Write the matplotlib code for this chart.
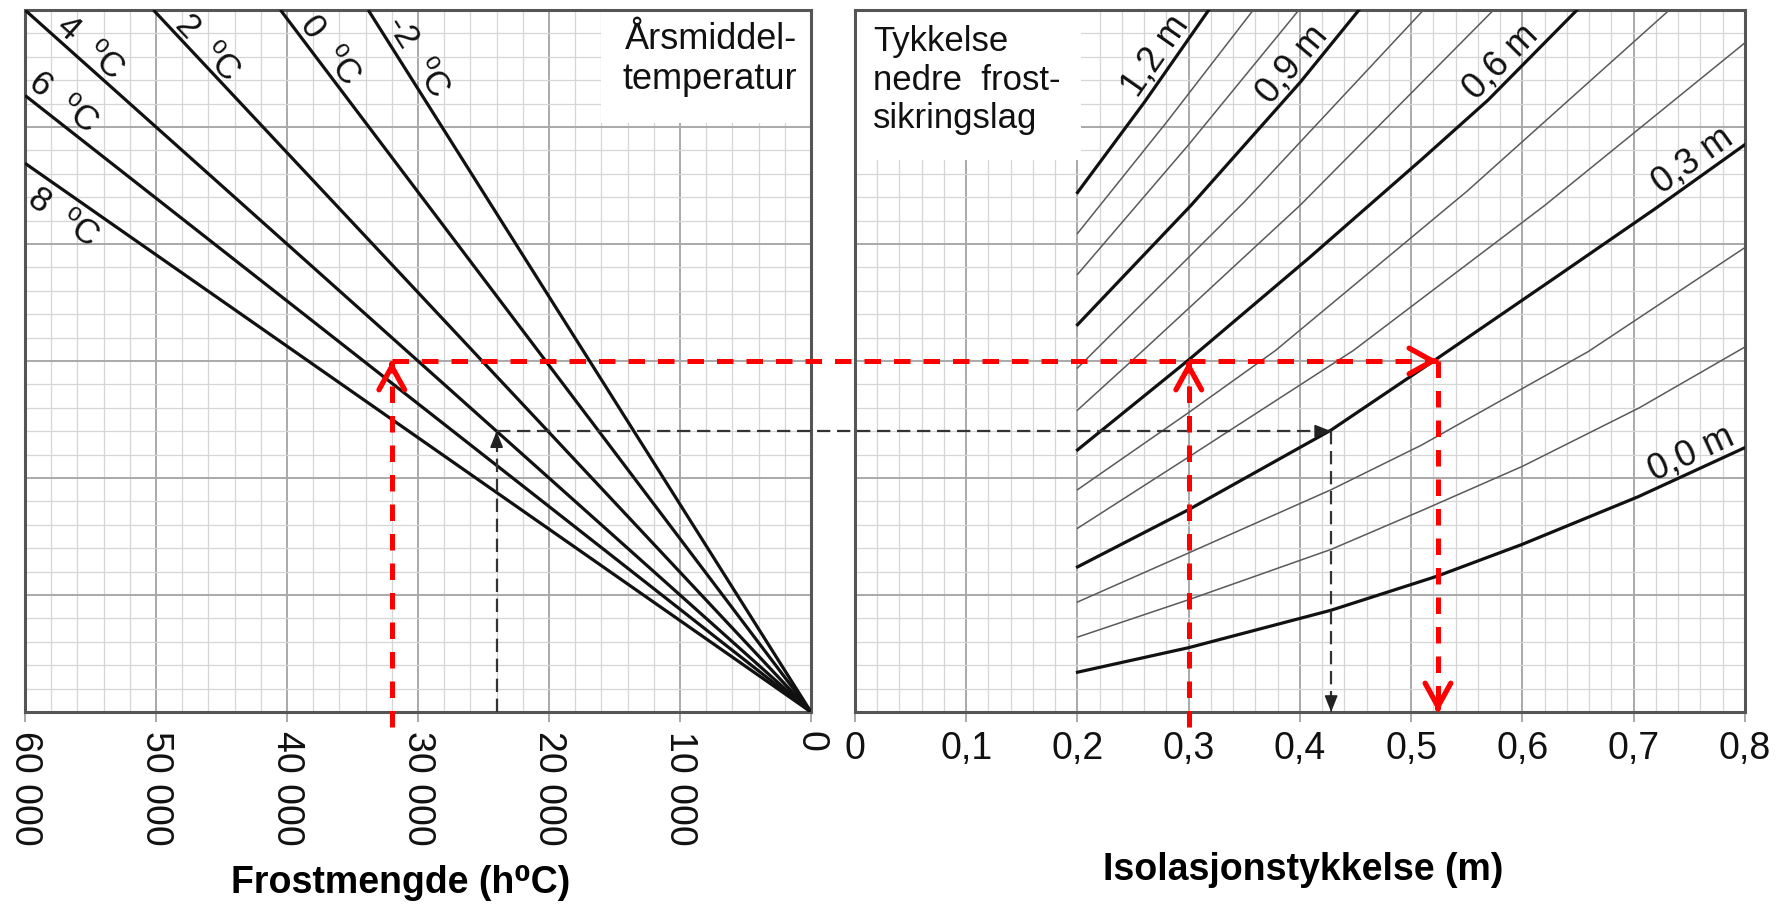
import math
import numpy as np
import matplotlib
matplotlib.use("Agg")
import matplotlib.pyplot as plt
from matplotlib.patches import Rectangle
from matplotlib.ticker import MultipleLocator

plt.rcParams['font.family'] = ['Liberation Sans', 'DejaVu Sans']

# venstre del: linjer for årsmiddeltemperatur, fra (0, 0) til endepunkt
temp_names = ["-2", "0", "2", "4", "6", "8"]
temp_end_frost = [33800, 40500, 50200, 60000, 60000, 60000]
temp_end_depth = [6.0, 6.0, 6.0, 6.0, 5.27, 4.69]

frost_ticks = [60000, 50000, 40000, 30000, 20000, 10000, 0]
frost_ticklabels = ["60 000", "50 000", "40 000", "30 000", "20 000", "10 000", "0"]

iso_ticks = [0, 0.1, 0.2, 0.3, 0.4, 0.5, 0.6, 0.7, 0.8]
iso_ticklabels = ["0", "0,1", "0,2", "0,3", "0,4", "0,5", "0,6", "0,7", "0,8"]

# høyre del: tykkelse nedre frostsikringslag, isolasjon (x) mot dybde (y)
t00_x = [0.2, 0.3, 0.428, 0.523, 0.599, 0.704, 0.80]
t00_y = [0.34, 0.55, 0.87, 1.16, 1.43, 1.84, 2.26]
t01_x = [0.2, 0.3, 0.428, 0.509, 0.60, 0.705, 0.80]
t01_y = [0.64, 0.96, 1.39, 1.72, 2.10, 2.60, 3.12]
t02_x = [0.2, 0.3, 0.428, 0.509, 0.659, 0.80]
t02_y = [0.94, 1.36, 1.90, 2.28, 3.08, 3.97]
t03_x = [0.2, 0.3, 0.428, 0.52, 0.629, 0.719, 0.80]
t03_y = [1.24, 1.73, 2.41, 3.0, 3.71, 4.30, 4.85]
t04_x = [0.2, 0.3, 0.448, 0.62, 0.80]
t04_y = [1.57, 2.18, 3.09, 4.33, 5.72]
t05_x = [0.2, 0.3, 0.378, 0.55, 0.732]
t05_y = [1.90, 2.56, 3.09, 4.45, 6.0]
t06_x = [0.2, 0.3, 0.408, 0.509, 0.569, 0.649]
t06_y = [2.24, 3.01, 3.88, 4.72, 5.23, 6.0]
t07_x = [0.2, 0.259, 0.40, 0.574]
t07_y = [2.58, 3.09, 4.33, 6.0]
t08_x = [0.2, 0.35, 0.511]
t08_y = [2.94, 4.36, 6.0]
t09_x = [0.2, 0.302, 0.40, 0.453]
t09_y = [3.31, 4.33, 5.38, 6.0]
t10_x = [0.2, 0.30, 0.399]
t10_y = [3.74, 4.85, 6.0]
t11_x = [0.2, 0.28, 0.358]
t11_y = [4.09, 5.04, 6.0]
t12_x = [0.2, 0.26, 0.318]
t12_y = [4.44, 5.21, 6.0]

# eksempler (rød og svart stiplet)
red_frost = 32000
red_depth = 3.0
red_iso_up = 0.3
red_iso_down = 0.524
black_frost = 24000
black_depth = 2.4
black_iso = 0.428

curves = [("0,0 m", t00_x, t00_y), (None, t01_x, t01_y), (None, t02_x, t02_y),
          ("0,3 m", t03_x, t03_y), (None, t04_x, t04_y), (None, t05_x, t05_y),
          ("0,6 m", t06_x, t06_y), (None, t07_x, t07_y), (None, t08_x, t08_y),
          ("0,9 m", t09_x, t09_y), (None, t10_x, t10_y), (None, t11_x, t11_y),
          ("1,2 m", t12_x, t12_y)]


def screen_angle(ax, p0, p1):
    (a, b), (c, d) = ax.transData.transform([p0, p1])
    return math.degrees(math.atan2(d - b, c - a))


def style_axes(ax):
    ax.set_ylim(0, 6)
    ax.yaxis.set_major_locator(MultipleLocator(1))
    ax.yaxis.set_minor_locator(MultipleLocator(0.2))
    ax.tick_params(axis='y', which='both', length=0, labelleft=False)
    ax.tick_params(axis='x', which='major', direction='out', length=7, width=1.2,
                   color='#9a9a9a', pad=7, labelsize=27, labelcolor='#111111')
    ax.tick_params(axis='x', which='minor', length=0)
    ax.grid(which='major', color='#a9a9a9', lw=1.4)
    ax.grid(which='minor', color='#d6d6d6', lw=0.9)
    ax.set_axisbelow(True)
    for s in ax.spines.values():
        s.set_color('#555555')
        s.set_linewidth(2.2)


fig = plt.figure(figsize=(17.83, 9.11), dpi=100)
ax1 = fig.add_axes([25 / 1783, 199 / 911, 786 / 1783, 702 / 911])
ax2 = fig.add_axes([855 / 1783, 199 / 911, 890 / 1783, 702 / 911])

# ---- venstre: frostmengde
ax1.set_xlim(60000, 0)
ax1.xaxis.set_minor_locator(MultipleLocator(2000))
style_axes(ax1)
ax1.set_xticks(frost_ticks)
ax1.set_xticklabels(frost_ticklabels, rotation=-90, va='top', ha='center')

for fx, dy in zip(temp_end_frost, temp_end_depth):
    ax1.plot([0, fx], [0, dy], color='#111111', lw=2.3, solid_capstyle='butt', zorder=3)

temp_text_pos = {"4": (55000, 5.68), "2": (46100, 5.68), "0": (36700, 5.66),
                 "-2": (30000, 5.60), "6": (57100, 5.21), "8": (57100, 4.23)}
for name, fx, dy in zip(temp_names, temp_end_frost, temp_end_depth):
    ang = screen_angle(ax1, (fx, dy), (0, 0))
    tx, ty = temp_text_pos[name]
    ax1.text(tx, ty, name + "  ⁰C", fontsize=25, rotation=ang, rotation_mode='anchor',
             ha='center', va='center', color='#111111', zorder=4)

ax1.add_patch(Rectangle((0, 5.03), 16000, 0.97, facecolor='white', edgecolor='none', zorder=1))
ax1.text(0.982, 0.983, "Årsmiddel-\ntemperatur", transform=ax1.transAxes, fontsize=26,
         ha='right', va='top', linespacing=1.2, color='#111111', zorder=4)
ax1.set_xlabel("Frostmengde (h⁰C)", fontsize=27, fontweight='bold')
ax1.xaxis.set_label_coords(0.478, -0.218)

# ---- høyre: isolasjonstykkelse
ax2.set_xlim(0, 0.8)
ax2.xaxis.set_minor_locator(MultipleLocator(0.02))
style_axes(ax2)
ax2.set_xticks(iso_ticks)
ax2.set_xticklabels(iso_ticklabels)

label_at = {"1,2 m": 0.283, "0,9 m": 0.405, "0,6 m": 0.592, "0,3 m": 0.762, "0,0 m": 0.758}
for lab, xs, ys in curves:
    if lab:
        ax2.plot(xs, ys, color='#111111', lw=2.3, zorder=3)
        lx = label_at[lab]
        ly = float(np.interp(lx, xs, ys))
        ang = screen_angle(ax2, (lx - 0.02, np.interp(lx - 0.02, xs, ys)),
                           (lx + 0.02, np.interp(lx + 0.02, xs, ys)))
        ax2.text(lx, ly, lab, fontsize=26, rotation=ang, rotation_mode='anchor',
                 ha='center', va='bottom', color='#111111', zorder=4)
    else:
        ax2.plot(xs, ys, color='#5a5a5a', lw=1.1, zorder=3)

ax2.add_patch(Rectangle((0, 4.72), 0.203, 1.28, facecolor='white', edgecolor='none', zorder=1))
ax2.text(0.02, 0.978, "Tykkelse\nnedre  frost-\nsikringslag", transform=ax2.transAxes,
         fontsize=25, ha='left', va='top', linespacing=1.2, color='#111111', zorder=4)
ax2.set_xlabel("Isolasjonstykkelse (m)", fontsize=27, fontweight='bold')
ax2.xaxis.set_label_coords(0.504, -0.2)

# ---- stiplede eksempler
red = '#ff0000'
red_style = dict(color=red, lw=3.6, linestyle=(0, (3.3, 2.6)), clip_on=False, zorder=6)
blk_style = dict(color='#333333', lw=1.6, linestyle=(0, (6, 3)), clip_on=False, zorder=5)
red_head = dict(arrowstyle='->,head_length=0.4,head_width=0.22', color=red, lw=3.8,
                mutation_scale=42, shrinkA=0, shrinkB=0)
blk_head = dict(arrowstyle='-|>,head_length=0.45,head_width=0.18', color='#222222', lw=1.2,
                mutation_scale=22, shrinkA=0, shrinkB=0)


# x i ax2-koordinater for et punkt i venstre del
def left_to_right_x(frost, depth):
    disp = ax1.transData.transform((frost, depth))
    return ax2.transData.inverted().transform(disp)[0]


below = -0.13
ax1.plot([red_frost, red_frost], [below, red_depth], **red_style)
ax1.annotate('', xy=(red_frost, red_depth), xytext=(0, -3), textcoords='offset points',
             arrowprops=red_head, annotation_clip=False, zorder=7)
ax2.plot([left_to_right_x(red_frost, red_depth), red_iso_down], [red_depth, red_depth], **red_style)
ax2.annotate('', xy=(red_iso_down, red_depth), xytext=(-3, 0), textcoords='offset points',
             arrowprops=red_head, zorder=7)
ax2.plot([red_iso_down, red_iso_down], [red_depth, 0], **red_style)
ax2.annotate('', xy=(red_iso_down, 0.0), xytext=(0, 3), textcoords='offset points',
             arrowprops=red_head, annotation_clip=False, zorder=7)
ax2.plot([red_iso_up, red_iso_up], [below, red_depth], **red_style)
ax2.annotate('', xy=(red_iso_up, red_depth), xytext=(0, -3), textcoords='offset points',
             arrowprops=red_head, zorder=7)

ax1.plot([black_frost, black_frost], [0, black_depth], **blk_style)
ax1.annotate('', xy=(black_frost, black_depth), xytext=(0, -3), textcoords='offset points',
             arrowprops=blk_head, zorder=6)
ax2.plot([left_to_right_x(black_frost, black_depth), black_iso], [black_depth, black_depth], **blk_style)
ax2.annotate('', xy=(black_iso, black_depth), xytext=(-3, 0), textcoords='offset points',
             arrowprops=blk_head, zorder=6)
ax2.plot([black_iso, black_iso], [black_depth, 0], **blk_style)
ax2.annotate('', xy=(black_iso, 0.0), xytext=(0, 3), textcoords='offset points',
             arrowprops=blk_head, annotation_clip=False, zorder=6)

fig.savefig("out.png", dpi=100, facecolor='white')
